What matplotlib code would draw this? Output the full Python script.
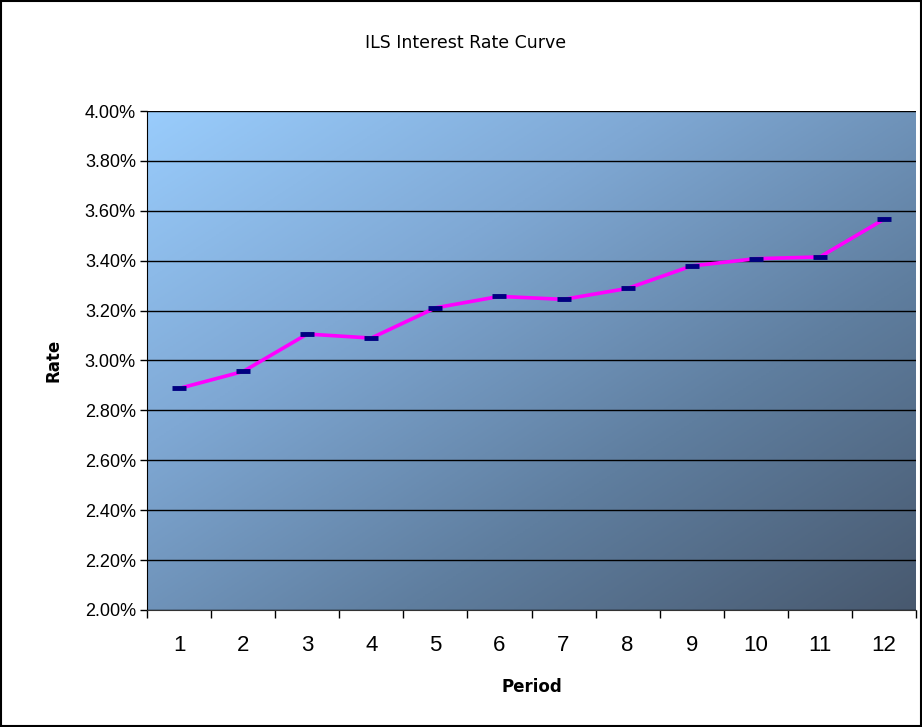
import numpy as np
import matplotlib
matplotlib.use("Agg")
from matplotlib import pyplot as plt
from matplotlib.colors import LinearSegmentedColormap
from matplotlib.ticker import FuncFormatter, FixedLocator

# data
periods = [1, 2, 3, 4, 5, 6, 7, 8, 9, 10, 11, 12]
rates = [2.888, 2.956, 3.106, 3.090, 3.211, 3.257, 3.245, 3.289, 3.379, 3.408, 3.415, 3.566]

fig = plt.figure(figsize=(9.22, 7.27), dpi=100)
ax = fig.add_axes([147 / 922, 1 - 610 / 727, 769 / 922, 499 / 727])

# diagonal gradient background, light top-left to dark bottom-right
cmap = LinearSegmentedColormap.from_list("bg", ["#99ccfc", "#7fa8d4", "#5f7e9f", "#48596f"])
gx, gy = np.meshgrid(np.linspace(0, 1, 300), np.linspace(0, 1, 300))
grad = (gx + gy) / 2
ax.imshow(grad, extent=[0.5, 12.5, 2.0, 4.0], origin="upper", cmap=cmap,
          aspect="auto", zorder=0)

ax.set_xlim(0.5, 12.5)
ax.set_ylim(2.0, 4.0)

ax.set_yticks(np.arange(2.0, 4.01, 0.2))
ax.yaxis.set_major_formatter(FuncFormatter(lambda v, p: f"{v:.2f}%"))
ax.grid(axis="y", color="black", linewidth=1, zorder=1)

ax.xaxis.set_major_locator(FixedLocator(np.arange(0.5, 12.6, 1)))
ax.xaxis.set_major_formatter(FuncFormatter(lambda v, p: ""))
ax.xaxis.set_minor_locator(FixedLocator(periods))
ax.set_xticklabels([str(p) for p in periods], minor=True)
ax.tick_params(axis="x", which="major", length=6, width=1, direction="out")
ax.tick_params(axis="x", which="minor", length=0, pad=18, labelsize=16)
ax.tick_params(axis="y", length=5, width=1, labelsize=13, pad=3)
for lbl in ax.get_yticklabels() + ax.get_xticklabels(minor=True):
    lbl.set_fontfamily("Liberation Sans")

ax.plot(periods, rates, color="#ff00ff", linewidth=2.6, zorder=3)
ax.plot(periods, rates, linestyle="none", marker="_", markersize=10,
        markeredgewidth=3.5, color="#000080", zorder=4)

for s in ["top", "right"]:
    ax.spines[s].set_visible(False)
ax.spines["left"].set_color("black")
ax.spines["bottom"].set_color("#333333")

ax.set_xlabel("Period", fontsize=12, fontweight="bold", family="DejaVu Sans Condensed", labelpad=16)
ax.set_ylabel("Rate", fontsize=12, fontweight="bold", family="DejaVu Sans Condensed", labelpad=16)
fig.text(0.505, 1 - 43 / 727, "ILS Interest Rate Curve", ha="center", va="center",
         fontsize=12.5, family="DejaVu Sans Condensed")

# outer chart border
fig.patches.append(plt.Rectangle((0.001, 0.001), 0.998, 0.997, transform=fig.transFigure,
                                 fill=False, edgecolor="black", linewidth=1.5))

fig.savefig("out.png", dpi=100)
